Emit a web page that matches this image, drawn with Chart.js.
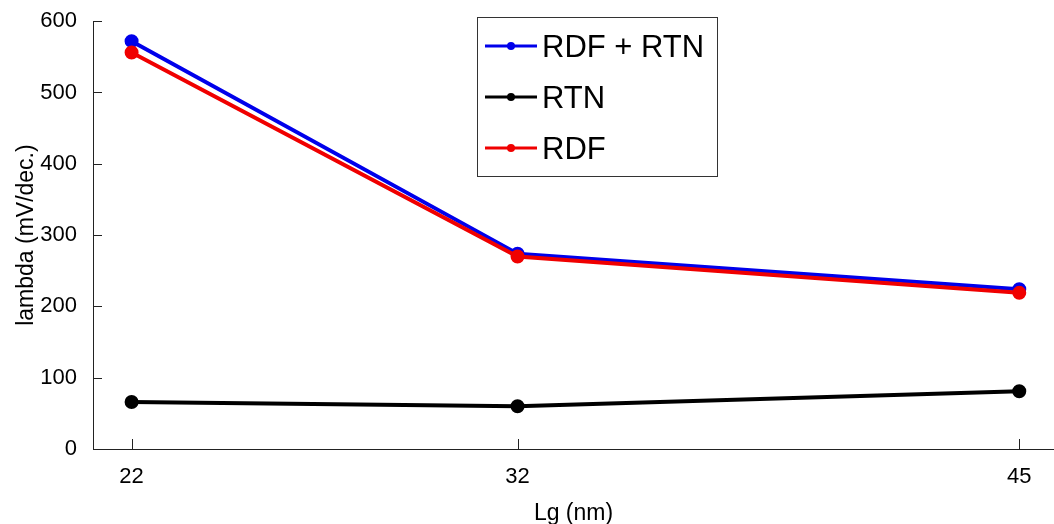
<!DOCTYPE html>
<html>
<head>
<meta charset="utf-8">
<script src="https://cdn.jsdelivr.net/npm/chart.js@4"></script>
<style>
  html, body { margin: 0; padding: 0; background: #fff; }
  #wrap { width: 1054px; height: 524px; }
</style>
</head>
<body>
<div id="wrap"><canvas id="lambdaChart" width="1054" height="524"></canvas></div>
<script>
const lgValues = [22, 32, 45];
const rdfRtn = [572, 274, 224];
const rtn = [66, 60, 81];
const rdf = [556, 270, 219];
const yTicks = [0, 100, 200, 300, 400, 500, 600];

const toPoints = (ys) => lgValues.map((x, i) => ({ x: x, y: ys[i] }));
const fontFam = "'Liberation Sans', Arial, sans-serif";

// matlab style ticks pointing into the axes
const innerTicks = {
    id: "innerTicks",
    afterDatasetsDraw(chart) {
        const ctx = chart.ctx;
        const xs = chart.scales.x, ys = chart.scales.y;
        ctx.save();
        ctx.strokeStyle = "#222";
        ctx.lineWidth = 1;
        ctx.beginPath();
        lgValues.forEach(v => {
            const px = Math.round(xs.getPixelForValue(v)) + 0.5;
            ctx.moveTo(px, ys.bottom);
            ctx.lineTo(px, ys.bottom - 10);
        });
        yTicks.forEach(v => {
            const py = Math.round(ys.getPixelForValue(v)) + 0.5;
            ctx.moveTo(xs.left, py);
            ctx.lineTo(xs.left + 9, py);
        });
        ctx.stroke();
        ctx.restore();
    }
};

// legend box inside the plot, like the original figure
const boxLegend = {
    id: "boxLegend",
    afterDraw(chart) {
        const ctx = chart.ctx;
        const x0 = 477, y0 = 17, w = 240, h = 159;
        ctx.save();
        ctx.fillStyle = "#fff";
        ctx.fillRect(x0, y0, w, h);
        ctx.strokeStyle = "#333";
        ctx.lineWidth = 1;
        ctx.strokeRect(x0 + 0.5, y0 + 0.5, w, h);
        ctx.font = "31px " + fontFam;
        ctx.textBaseline = "middle";
        chart.data.datasets.forEach((ds, i) => {
            const cy = y0 + 29 + i * 51;
            ctx.strokeStyle = ds.borderColor;
            ctx.lineWidth = 3;
            ctx.beginPath();
            ctx.moveTo(x0 + 8, cy);
            ctx.lineTo(x0 + 60, cy);
            ctx.stroke();
            ctx.fillStyle = ds.borderColor;
            ctx.beginPath();
            ctx.arc(x0 + 34, cy, 4, 0, Math.PI * 2);
            ctx.fill();
            ctx.fillStyle = "#000";
            ctx.fillText(ds.label, x0 + 65, cy + 2);
        });
        ctx.restore();
    }
};

const lineSet = (label, color, ys, order) => ({
    label: label,
    data: toPoints(ys),
    borderColor: color,
    backgroundColor: color,
    pointBackgroundColor: color,
    pointBorderColor: color,
    borderWidth: 4,
    pointRadius: 5,
    tension: 0,
    fill: false,
    order: order
});

new Chart(document.getElementById("lambdaChart"), {
    type: "line",
    data: {
        datasets: [
            lineSet("RDF + RTN", "rgb(0, 0, 235)", rdfRtn, 2),
            lineSet("RTN", "#000", rtn, 1),
            lineSet("RDF", "rgb(240, 0, 0)", rdf, 0)
        ]
    },
    options: {
        responsive: false,
        animation: false,
        layout: { autoPadding: false, padding: { top: 18, right: 0, left: 0, bottom: 0 } },
        plugins: {
            legend: { display: false },
            tooltip: { enabled: false }
        },
        scales: {
            x: {
                type: "linear",
                min: 21,
                max: 45.9,
                afterBuildTicks(scale) {
                    scale.ticks = lgValues.map(v => ({ value: v }));
                },
                afterFit(scale) {
                    scale.height = 75;
                    // axis runs right to the edge of the figure
                    scale.paddingLeft = 0;
                    scale.paddingRight = 0;
                },
                grid: { display: false },
                border: { display: true, color: "#222", width: 1 },
                ticks: {
                    color: "#000",
                    padding: 7,
                    font: { family: fontFam, size: 22 }
                },
                title: {
                    display: true,
                    text: "Lg (nm)",
                    color: "#000",
                    padding: { top: 0, bottom: -3 },
                    font: { family: fontFam, size: 23 }
                }
            },
            y: {
                min: 0,
                max: 600,
                afterBuildTicks(scale) {
                    scale.ticks = yTicks.map(v => ({ value: v }));
                },
                afterFit(scale) { scale.width = 93; },
                grid: { display: false },
                border: { display: true, color: "#222", width: 1 },
                ticks: {
                    color: "#000",
                    padding: 8,
                    font: { family: fontFam, size: 22 }
                },
                title: {
                    display: true,
                    text: "lambda (mV/dec.)",
                    color: "#000",
                    padding: { top: 13, bottom: 0 },
                    font: { family: fontFam, size: 23 }
                }
            }
        }
    },
    plugins: [innerTicks, boxLegend]
});
</script>
</body>
</html>
